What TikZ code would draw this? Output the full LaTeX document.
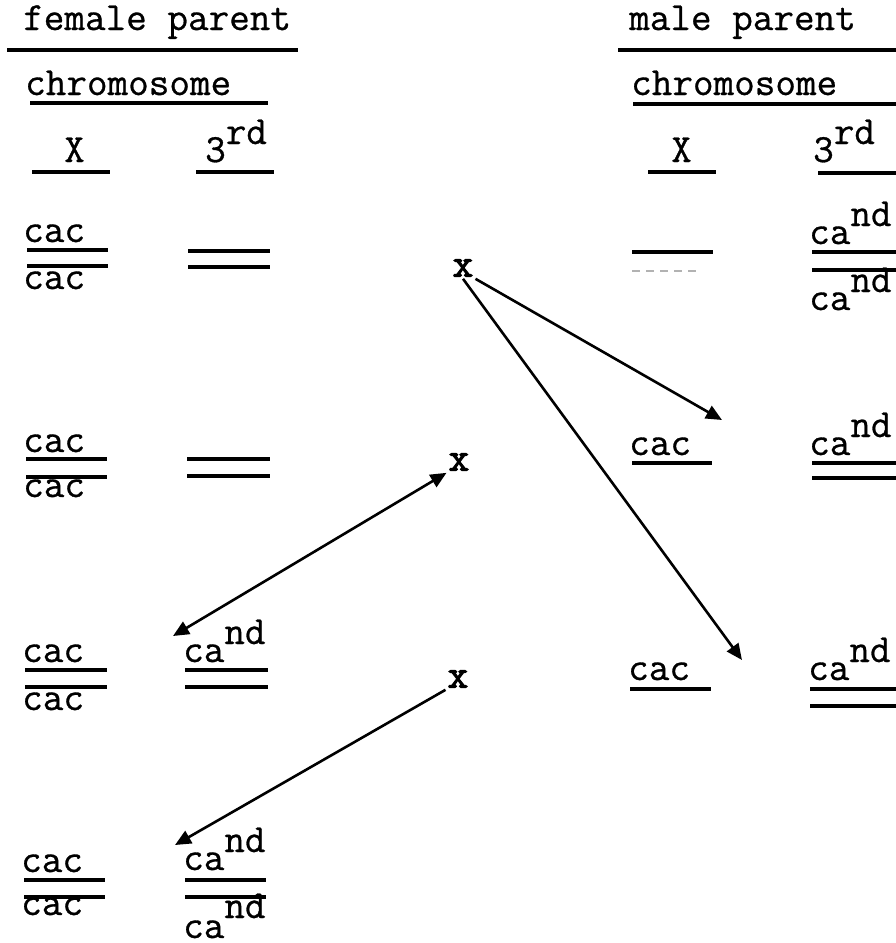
\documentclass[tikz,border=0pt]{standalone}
\usepackage{fontspec}
\usetikzlibrary{arrows.meta}
\newfontfamily\tw{Latin Modern Mono}[FakeBold=0.7]
\newfontfamily\twb{Latin Modern Mono}[FakeBold=2.6]
\newcommand\supr[1]{\raisebox{18pt}{#1}}
\begin{document}
\begin{tikzpicture}[x=1pt,y=-1pt,
  txt/.style={anchor=base west,inner sep=0pt,font=\tw\fontsize{40}{46}\selectfont},
  rule/.style={line width=3.4pt},
  faint/.style={line width=1.2pt,gray!60,dash pattern=on 8pt off 6pt},
  cross/.style={inner sep=2pt,font=\twb\fontsize{40}{46}\selectfont},
  arr/.style={line width=2.6pt,-{Triangle[length=16pt,width=14pt]}},
  darr/.style={line width=2.6pt,{Triangle[length=16pt,width=14pt]}-{Triangle[length=16pt,width=14pt]}}
]
\useasboundingbox (0,0) rectangle (896,943);
\fill[white] (0,0) rectangle (896,943);

% ---------- headers ----------
\node[txt] (fp) at (23,30) {female parent};
\draw[rule] (7,50) -- (298,50);
\node[txt] (fc) at (25,95) {chromosome};
\draw[rule] (30,103) -- (268,103);
\node[txt] (fX) at (64,162) {X};
\draw[rule] (32,172) -- (110,172);
\node[txt] (f3) at (205,162) {3\supr{rd}};
\draw[rule] (196,172) -- (274,172);

\node[txt] (mp) at (629,30) {male parent};
\draw[rule] (618,50) -- (896,50);
\node[txt] (mc) at (631,95) {chromosome};
\draw[rule] (633,104) -- (896,104);
\node[txt] (mX) at (671,162) {X};
\draw[rule] (648,172) -- (716,172);
\node[txt] (m3) at (813,162) {3\supr{rd}};
\draw[rule] (818,173) -- (896,173);

% ---------- female rows ----------
% row 1
\node[txt] (f1a) at (23,242) {cac};
\draw[rule] (27,250) -- (108,250);
\draw[rule] (27,266) -- (108,266);
\node[txt] (f1b) at (23,289) {cac};
\draw[rule] (188,251) -- (270,251);
\draw[rule] (188,267) -- (270,267);
% row 2
\node[txt] (f2a) at (23,452) {cac};
\draw[rule] (26,459) -- (107,459);
\draw[rule] (26,477) -- (107,477);
\node[txt] (f2b) at (23,497) {cac};
\draw[rule] (187,459) -- (270,459);
\draw[rule] (187,476) -- (270,476);
% row 3
\node[txt] (f3a) at (22,662) {cac};
\draw[rule] (25,670) -- (107,670);
\draw[rule] (25,687) -- (107,687);
\node[txt] (f3b) at (22,710) {cac};
\node[txt] (f3c) at (183,662) {ca\supr{nd}};
\draw[rule] (185,670) -- (268,670);
\draw[rule] (185,687) -- (268,687);
% row 4
\node[txt] (f4a) at (21,872) {cac};
\draw[rule] (24,880) -- (105,880);
\draw[rule] (24,897) -- (105,897);
\node[txt] (f4b) at (21,915) {cac};
\node[txt] (f4c) at (183,870) {ca\supr{nd}};
\draw[rule] (185,880) -- (266,880);
\draw[rule] (185,897) -- (266,897);
\node[txt] (f4d) at (183,938) {ca\raisebox{20pt}{nd}};

% ---------- male rows ----------
% row 1
\draw[rule] (632,252) -- (713,252);
\draw[faint] (632,271) -- (700,271);
\node[txt] (m1a) at (809,244) {ca\supr{nd}};
\draw[rule] (812,252) -- (896,252);
\draw[rule] (812,270) -- (896,270);
\node[txt] (m1b) at (809,310) {ca\supr{nd}};
% row 2
\node[txt] (m2a) at (629,455) {cac};
\draw[rule] (632,463) -- (712,463);
\node[txt] (m2b) at (809,455) {ca\supr{nd}};
\draw[rule] (812,463) -- (896,463);
\draw[rule] (812,478) -- (896,478);
% row 3
\node[txt] (m3a) at (628,680) {cac};
\draw[rule] (630,689) -- (711,689);
\node[txt] (m3b) at (808,680) {ca\supr{nd}};
\draw[rule] (810,689) -- (896,689);
\draw[rule] (810,706) -- (896,706);

% ---------- crosses and arrows ----------
\node[cross] (x1) at (463,268) {x};
\node[cross] (x2) at (459,462) {x};
\node[cross] (x3) at (458,679) {x};

\coordinate (tm2) at (722,420);
\coordinate (tm3) at (742,660);
\coordinate (tf3) at (173,636);
\coordinate (tf4) at (175,845);

\draw[arr] (x1.south east) -- (tm2);
\draw[arr] (x1.south) -- (tm3);
\draw[darr] (tf3) -- (x2.south west);
\draw[arr] (x3.south west) -- (tf4);
\end{tikzpicture}
\end{document}
